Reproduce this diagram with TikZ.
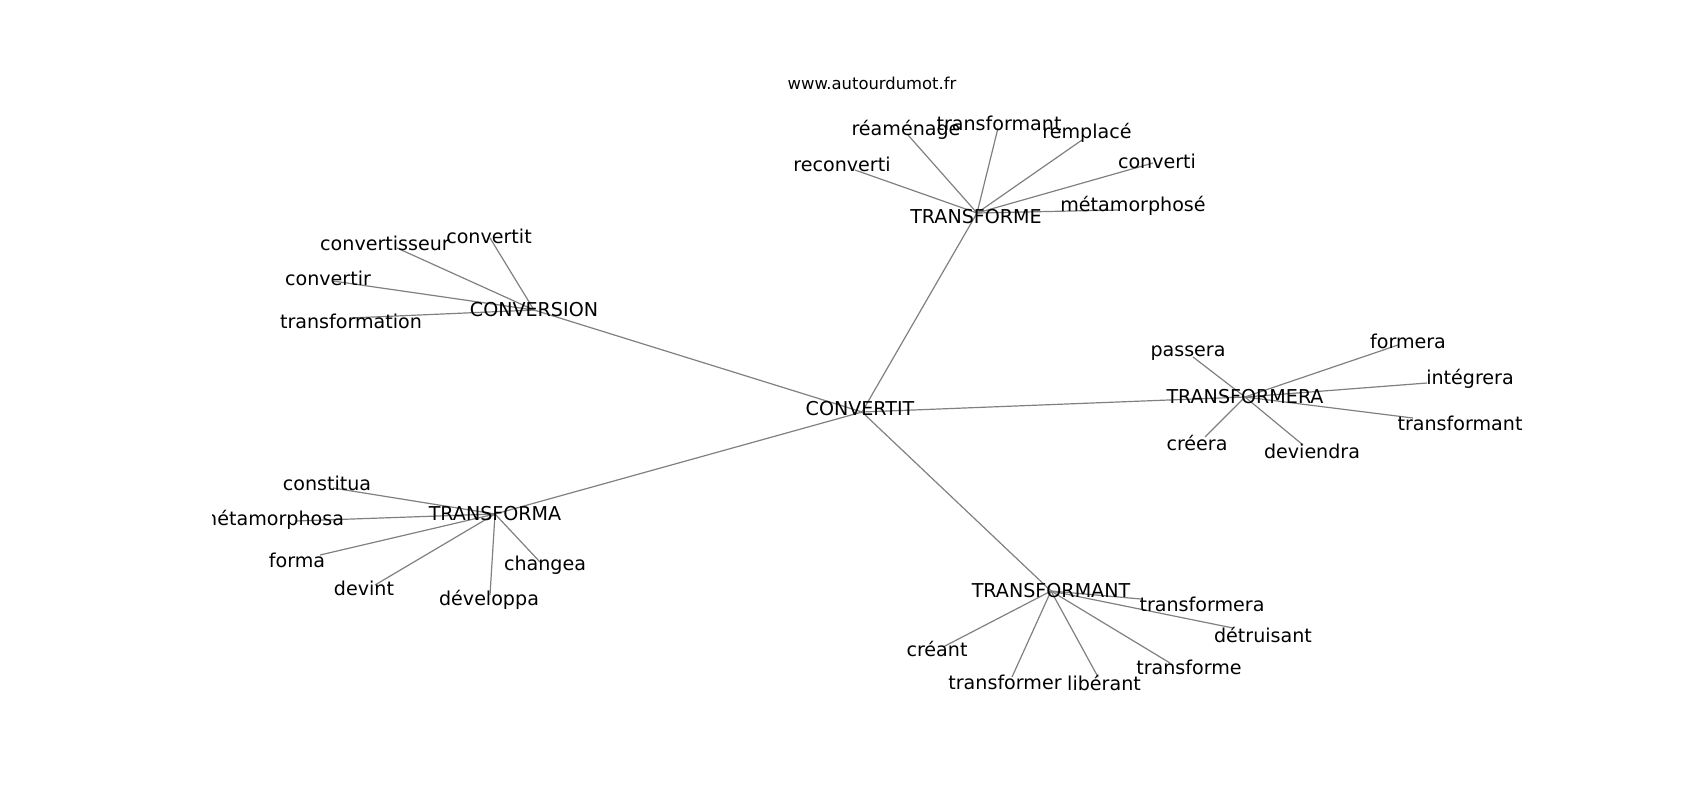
\documentclass[tikz,border=0pt]{standalone}
\usepackage{fontspec}
\setmainfont{DejaVu Sans}
\usetikzlibrary{backgrounds}
\newcommand{\lblfont}{\fontsize{9.55}{11}\selectfont}
\newcommand{\urlfont}{\fontsize{8.2}{10}\selectfont}
\tikzset{
  lbl/.style={inner sep=0pt, outer sep=0pt, font=\lblfont, text=black},
  conn/.style={draw=black!50, line width=0.6pt},
}
\begin{document}
\begin{tikzpicture}[x=0.5pt, y=-0.5pt]
\useasboundingbox (0,0) rectangle (1700,800);
\node[inner sep=0pt, font=\urlfont] (url) at (872,83) {www.autourdumot.fr};
\begin{scope}
\clip (212.5,96) rectangle (1530,712);
% hubs (label) and their connection points
\node[lbl] (cvt) at (860,409) {CONVERTIT};
\coordinate (cvtp) at (862,412);
\node[lbl] (tfe) at (976,216.5) {TRANSFORME};
\coordinate (tfep) at (977,213);
\node[lbl] (cvs) at (534,310) {CONVERSION};
\node[lbl] (tfera) at (1245,397) {TRANSFORMERA};
\node[lbl] (tfa) at (495,514) {TRANSFORMA};
\node[lbl] (tfant) at (1051,591) {TRANSFORMANT};
% TRANSFORME leaves
\coordinate (r1e) at (855,170); \node[lbl] (r1) at (842,164) {reconverti};
\coordinate (r2e) at (908,135); \node[lbl] (r2) at (906,130) {réaménage};
\coordinate (r3e) at (998,128); \node[lbl] (r3) at (999,123) {transformant};
\coordinate (r4e) at (1082,140); \node[lbl] (r4) at (1087,133) {remplacé};
\coordinate (r5e) at (1153,163); \node[lbl] (r5) at (1157,161) {converti};
\coordinate (r6e) at (1118,210); \node[lbl] (r6) at (1133,205.5) {métamorphosé};
% CONVERSION leaves
\coordinate (c1e) at (490,238); \node[lbl] (c1) at (489,236) {convertit};
\coordinate (c2e) at (397,248); \node[lbl] (c2) at (385,243) {convertisseur};
\coordinate (c3e) at (333,281); \node[lbl] (c3) at (328,278) {convertir};
\coordinate (c4e) at (350,318); \node[lbl] (c4) at (351,321) {transformation};
% TRANSFORMERA leaves
\coordinate (e1e) at (1193,357); \node[lbl] (e1) at (1188,353) {passera};
\coordinate (e2e) at (1398,345); \node[lbl] (e2) at (1408,341) {formera};
\coordinate (e3e) at (1427,383); \node[lbl] (e3) at (1470,379) {intégrera};
\coordinate (e4e) at (1413,418); \node[lbl] (e4) at (1460,423) {transformant};
\coordinate (e5e) at (1205,437); \node[lbl] (e5) at (1197,443) {créera};
\coordinate (e6e) at (1303,445); \node[lbl] (e6) at (1312,451) {deviendra};
% TRANSFORMA leaves
\coordinate (a1e) at (333,488); \node[lbl] (a1) at (327,483) {constitua};
\coordinate (a2e) at (295,521); \node[lbl, anchor=east] (a2) at (344,520) {métamorphosa};
\coordinate (a3e) at (320,555); \node[lbl] (a3) at (297,560) {forma};
\coordinate (a4e) at (375,585); \node[lbl] (a4) at (364,588) {devint};
\coordinate (a5e) at (490,595); \node[lbl] (a5) at (489,600) {développa};
\coordinate (a6e) at (540,562); \node[lbl] (a6) at (545,565) {changea};
% TRANSFORMANT leaves
\coordinate (n1e) at (1141,599); \node[lbl] (n1) at (1202,604) {transformera};
\coordinate (n2e) at (1233,628); \node[lbl] (n2) at (1263,635) {détruisant};
\coordinate (n3e) at (1170,663); \node[lbl] (n3) at (1189,667) {transforme};
\coordinate (n4e) at (1098,677); \node[lbl] (n4) at (1104,683) {libérant};
\coordinate (n5e) at (1012,677); \node[lbl] (n5) at (1005,682) {transformer};
\coordinate (n6e) at (943,647); \node[lbl] (n6) at (937,649) {créant};
\begin{scope}[on background layer]
\draw[conn] (cvtp) -- (tfep);
\draw[conn] (cvtp) -- (cvs.center);
\draw[conn] (cvtp) -- (tfera.center);
\draw[conn] (cvtp) -- (tfa.center);
\draw[conn] (cvtp) -- (tfant.center);
\foreach \k in {r1,r2,r3,r4,r5,r6} \draw[conn] (tfep) -- (\k e);
\foreach \k in {c1,c2,c3,c4} \draw[conn] (cvs.center) -- (\k e);
\foreach \k in {e1,e2,e3,e4,e5,e6} \draw[conn] (tfera.center) -- (\k e);
\foreach \k in {a1,a2,a3,a4,a5,a6} \draw[conn] (tfa.center) -- (\k e);
\foreach \k in {n1,n2,n3,n4,n5,n6} \draw[conn] (tfant.center) -- (\k e);
\end{scope}
\end{scope}
\end{tikzpicture}
\end{document}
